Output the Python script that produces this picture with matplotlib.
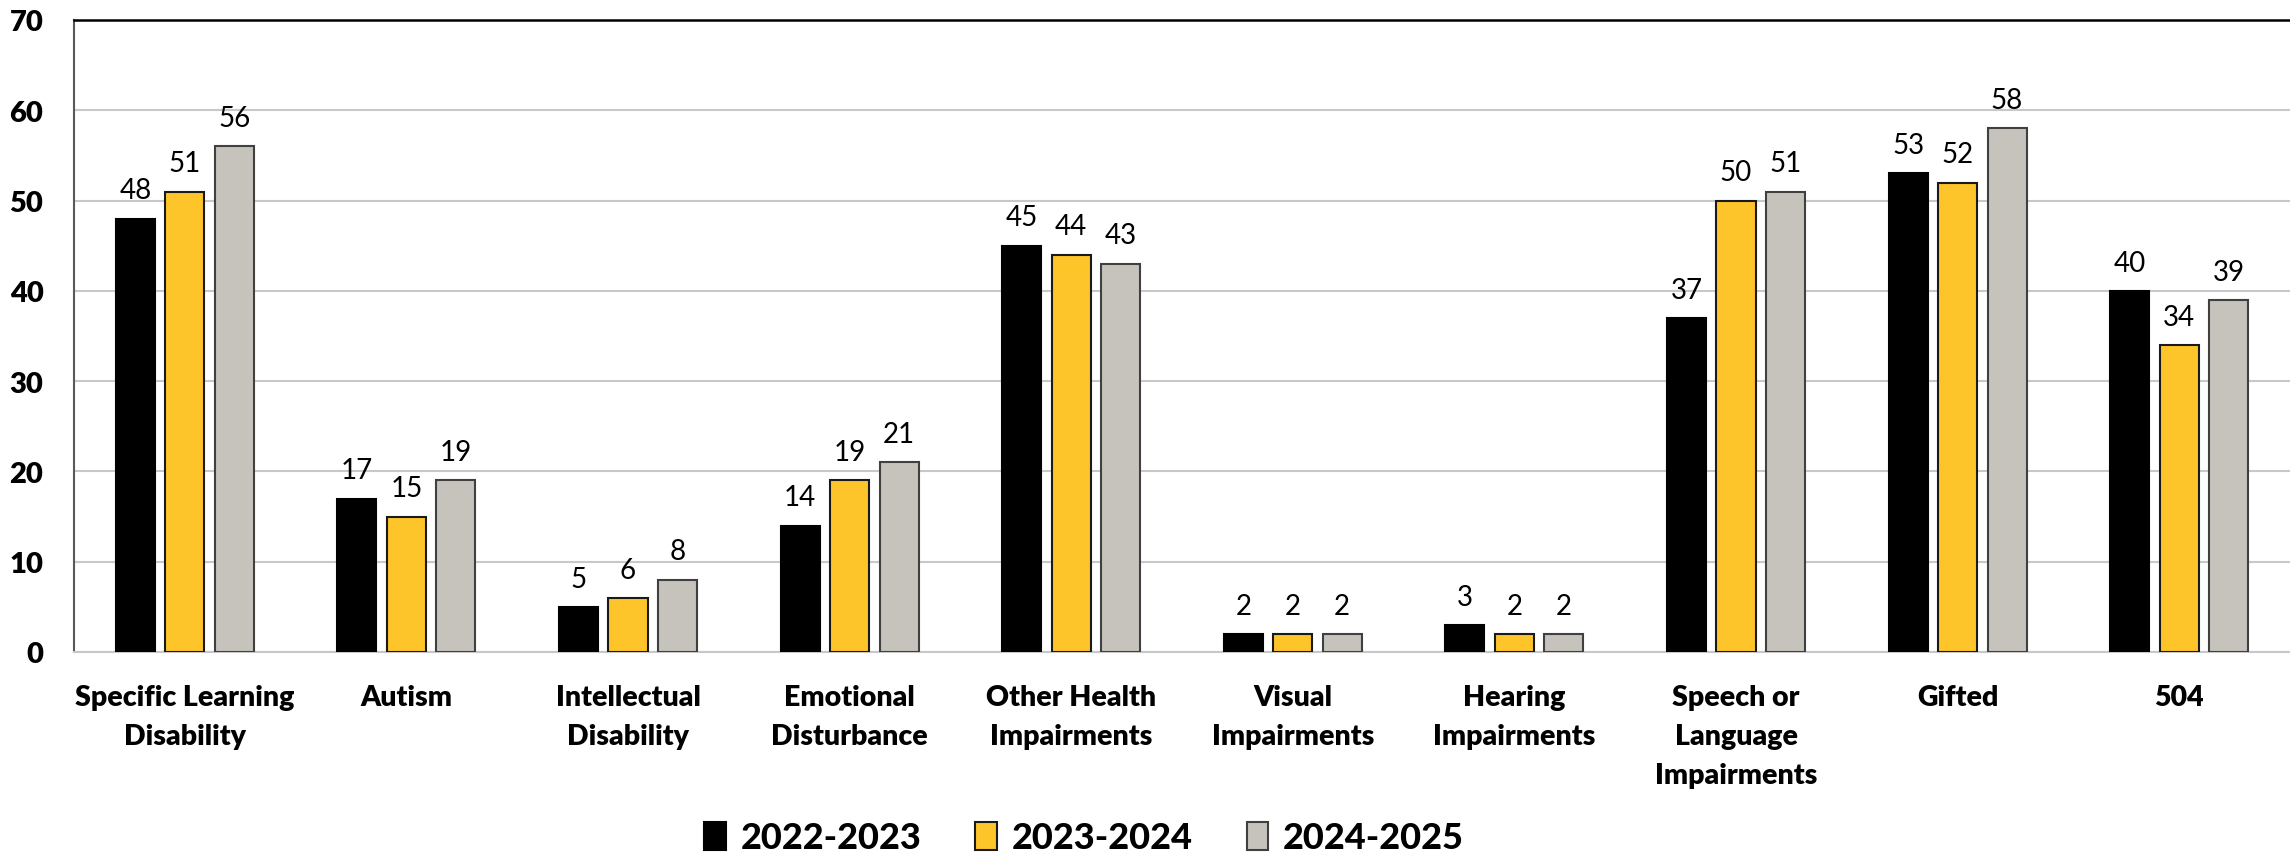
import numpy as np
import matplotlib.pyplot as plt

categories = ["Specific Learning\nDisability", "Autism", "Intellectual\nDisability",
              "Emotional\nDisturbance", "Other Health\nImpairments", "Visual\nImpairments",
              "Hearing\nImpairments", "Speech or\nLanguage\nImpairments", "Gifted", "504"]
years = ["2022-2023", "2023-2024", "2024-2025"]
y2022 = [48, 17, 5, 14, 45, 2, 3, 37, 53, 40]
y2023 = [51, 15, 6, 19, 44, 2, 2, 50, 52, 34]
y2024 = [56, 19, 8, 21, 43, 2, 2, 51, 58, 39]

colors = ["#000000", "#FDC52A", "#C6C2BC"]
edges = ["#000000", "#1a1a1a", "#404040"]

fig = plt.figure(figsize=(22.9, 8.54), dpi=100)
ax = fig.add_axes([74/2290, 1-653/854, 1-74/2290, (653-21)/854])

x = np.arange(len(categories))
pitch = 0.223
width = 0.176
series = [y2022, y2023, y2024]
for i, vals in enumerate(series):
    bars = ax.bar(x + (i-1)*pitch, vals, width, color=colors[i], edgecolor=edges[i],
                  linewidth=1.5, label=years[i], zorder=3)
    ax.bar_label(bars, padding=11, fontsize=20, family="Lato", color="#000000")

ax.set_xlim(-0.5, 9.5)
ax.set_ylim(0, 70)
ax.set_yticks(range(0, 71, 10))
ax.set_xticks(x)
ax.set_xticklabels(categories, fontsize=20.5, fontweight="heavy", family="Lato", linespacing=1.62)
ax.tick_params(axis="x", length=0, pad=23)
ax.tick_params(axis="y", length=0, pad=22, labelsize=21)
for lab in ax.get_yticklabels():
    lab.set_fontweight("heavy")
    lab.set_family("Lato")

ax.grid(axis="y", color="#c8c8c8", linewidth=1.5, zorder=0)
ax.spines["top"].set_color("#000000")
ax.spines["top"].set_linewidth(1.8)
ax.spines["left"].set_color("#595959")
ax.spines["left"].set_linewidth(1.5)
ax.spines["bottom"].set_color("#c8c8c8")
ax.spines["bottom"].set_linewidth(1.5)
ax.spines["right"].set_visible(False)

leg = fig.legend(loc="center", bbox_to_anchor=(1084/2290, 1-839/854), ncol=3, frameon=False,
                 prop={"family": "Lato", "weight": "black", "size": 26},
                 handlelength=0.6, handleheight=0.85, handletextpad=0.4, columnspacing=1.5)

fig.savefig("out.png", dpi=100)
